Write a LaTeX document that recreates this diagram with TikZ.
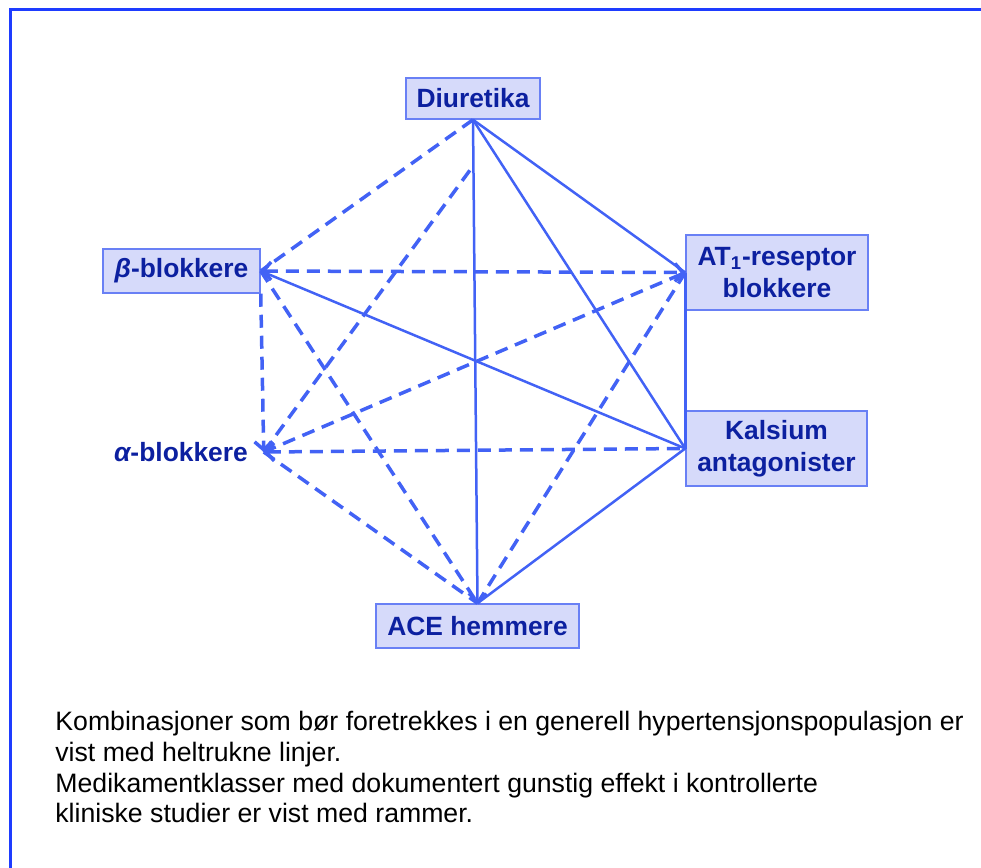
\documentclass[tikz,border=0pt]{standalone}
\usepackage{fontspec}
\setmainfont{Liberation Sans}
\usetikzlibrary{arrows.meta,positioning,calc}
\definecolor{frameblue}{RGB}{30,60,255}
\definecolor{lineblue}{RGB}{66,98,245}
\definecolor{boxfill}{RGB}{214,218,250}
\definecolor{boxdraw}{RGB}{105,128,245}
\definecolor{textnavy}{RGB}{12,32,160}
\tikzset{
  drug/.style={draw=boxdraw, fill=boxfill, line width=0.75pt, text=textnavy,
    font=\fontsize{13.2}{16}\selectfont\bfseries, align=center, inner sep=0pt},
  solidline/.style={lineblue, line width=1.25pt},
  dashline/.style={lineblue, line width=1.75pt, dash pattern=on 6.5pt off 4pt},
  >={Straight Barb[length=4pt,width=9pt]}
}

\begin{document}
\begin{tikzpicture}[x=0.5pt,y=-0.5pt]
  \useasboundingbox (0,0) rectangle (981,868);
  \draw[frameblue,line width=1.5pt] (10,868) -- (10,9) -- (981,9);
  \node[drug, minimum width=67pt, minimum height=20.5pt] (diu) at (473,98.5) {Diuretika};
  \node[drug, minimum width=78.5pt, minimum height=22pt] (beta) at (181.5,271) {{\itshape β}-blokkere};
  \node[drug, minimum width=91pt, minimum height=37.5pt] (at1) at (777,272.5) {AT\textsubscript{1}-reseptor\\blokkere};
  \node[drug, minimum width=90.5pt, minimum height=37.5pt] (kal) at (776.5,448.5) {Kalsium\\antagonister};
  \node[drug, minimum width=101.5pt, minimum height=22pt] (ace) at (477.5,626) {ACE hemmere};
  \node[drug, draw=none, fill=none, minimum width=82pt] (alpha) at (181,452) {{\itshape α}-blokkere};
  \coordinate (diugap) at (473,166);

  \draw[solidline,->] (diu.south) -- (ace.north);
  \draw[solidline] (diu.south) -- (at1.west);
  \draw[solidline] (diu.south) -- (kal.west);
  \draw[solidline] (beta.east) -- (kal.west);
  \draw[solidline] (at1.west) -- (kal.west);
  \draw[solidline] (kal.west) -- (ace.north);

  \draw[dashline] (diu.south) -- (beta.east);
  \draw[dashline] (alpha.east) -- (diugap);
  \draw[dashline,<->] (beta.east) -- (at1.west);
  \draw[dashline,->] (beta.south east) -- (alpha.east);
  \draw[dashline] (beta.east) -- (ace.north);
  \draw[dashline] (alpha.east) -- (at1.west);
  \draw[dashline,<-] (alpha.east) -- (kal.west);
  \draw[dashline] (alpha.east) -- (ace.north);
  \draw[dashline] (at1.west) -- (ace.north);

  \node[anchor=north west, inner sep=0pt, align=left, font=\fontsize{13.33}{15.35}\selectfont] (note) at (55,711)
    {Kombinasjoner som bør foretrekkes i en generell hypertensjonspopulasjon er\\
     vist med heltrukne linjer.\\
     Medikamentklasser med dokumentert gunstig effekt i kontrollerte\\
     kliniske studier er vist med rammer.};
\end{tikzpicture}
\end{document}
